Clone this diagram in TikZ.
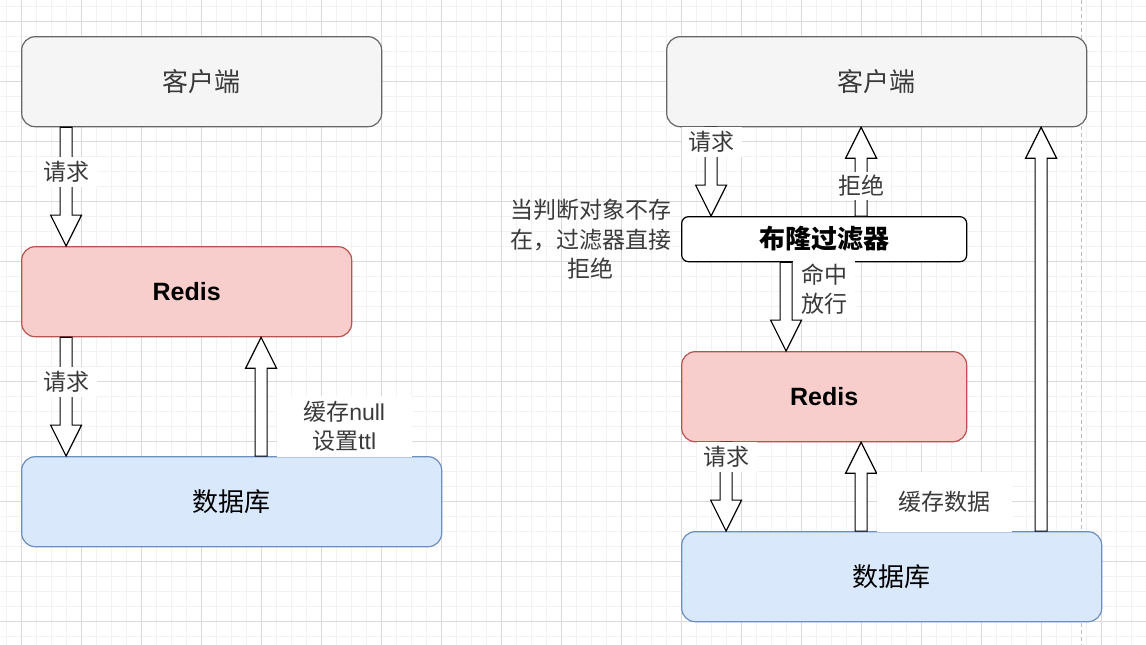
\documentclass[tikz,border=0pt]{standalone}
\usepackage{fontspec}
\setmainfont{Liberation Sans}
\newfontfamily\cjk{Noto Sans CJK SC}
\usetikzlibrary{calc}
\definecolor{gridminor}{HTML}{F2F2F2}
\definecolor{gridmajor}{HTML}{DADADA}
\definecolor{pagedash}{HTML}{BBBBBB}
\definecolor{cfill}{HTML}{F5F5F5}
\definecolor{cdraw}{HTML}{666666}
\definecolor{rfill}{HTML}{F8CECC}
\definecolor{rdraw}{HTML}{B85450}
\definecolor{dfill}{HTML}{DAE8FC}
\definecolor{ddraw}{HTML}{6C8EBF}
\definecolor{lblgray}{HTML}{3A3A3A}
\newcommand\arrdown[2]{\draw[barrow] let \p1=(#1), \p2=(#2) in
  (\x1-6pt,\y1) -- (\x1-6pt,\y2+31pt) -- (\x1-15.5pt,\y2+31pt) -- (\x1,\y2)
  -- (\x1+15.5pt,\y2+31pt) -- (\x1+6pt,\y2+31pt) -- (\x1+6pt,\y1) -- cycle;}
\newcommand\arrup[2]{\draw[barrow] let \p1=(#1), \p2=(#2) in
  (\x1-6pt,\y1) -- (\x1-6pt,\y2-31pt) -- (\x1-15.5pt,\y2-31pt) -- (\x1,\y2)
  -- (\x1+15.5pt,\y2-31pt) -- (\x1+6pt,\y2-31pt) -- (\x1+6pt,\y1) -- cycle;}
\begin{document}
\begin{tikzpicture}[x=1pt,y=-1pt,
  clientbox/.style={draw=cdraw, fill=cfill, rounded corners=13.5pt, line width=1.2pt,
    minimum height=90pt, inner sep=0pt, text=lblgray, font=\cjk\fontsize{26}{30}\selectfont},
  redisbox/.style={draw=rdraw, fill=rfill, rounded corners=13.5pt, line width=1.2pt,
    minimum height=90pt, inner sep=0pt, font=\bfseries\fontsize{25}{30}\selectfont},
  dbbox/.style={draw=ddraw, fill=dfill, rounded corners=13.5pt, line width=1.2pt,
    minimum height=90pt, inner sep=0pt, font=\cjk\fontsize{26}{30}\selectfont},
  filterbox/.style={draw=black, fill=white, rounded corners=6.75pt, line width=1.2pt,
    minimum height=45pt, inner sep=0pt, font=\cjk\bfseries\fontsize{26}{30}\selectfont},
  barrow/.style={draw=black, fill=white, line width=1.2pt, line join=miter},
  lbl/.style={fill=white, inner sep=0pt, minimum width=60pt, minimum height=30pt,
    text=lblgray, align=center, font=\cjk\fontsize{23}{29.3}\selectfont},
  note/.style={inner sep=0pt, text=lblgray, align=center, font=\cjk\fontsize{23}{29.3}\selectfont}]
\useasboundingbox (0,0) rectangle (1146,645);
\fill[white] (0,0) rectangle (1146,645);
% grid
\foreach \x in {6.7,21.7,...,1146} \draw[gridminor, line width=0.8pt] (\x,0) -- (\x,645);
\foreach \y in {6.7,21.7,...,645} \draw[gridminor, line width=0.8pt] (0,\y) -- (1146,\y);
\foreach \x in {21.7,81.7,...,1146} \draw[gridmajor, line width=0.8pt] (\x,0) -- (\x,645);
\foreach \y in {21.7,81.7,...,645} \draw[gridmajor, line width=0.8pt] (0,\y) -- (1146,\y);
\draw[pagedash, line width=1pt, dash pattern=on 4pt off 3pt] (1081.7,0) -- (1081.7,645);

% left diagram
\node[clientbox, minimum width=360pt] (cl) at (201.7,81.7) {客户端};
\node[redisbox, minimum width=330pt] (rl) at (186.7,291.7) {Redis};
\node[dbbox, minimum width=420pt] (dl) at (231.7,501.7) {数据库};

% right diagram
\node[clientbox, minimum width=420pt] (cr) at (876.7,81.7) {客户端};
\node[filterbox, minimum width=285pt] (bf) at (824.2,239.2) {布隆过滤器};
\node[redisbox, minimum width=285pt] (rr) at (824.2,396.7) {Redis};
\node[dbbox, minimum width=420pt] (dr) at (891.7,576.7) {数据库};

% left arrows
\arrdown{$(cl.south west)+(45,0)$}{$(rl.north west)+(45,0)$}
\arrdown{$(rl.south west)+(45,0)$}{$(dl.north west)+(45,0)$}
\arrup{$(dl.north west)+(240,0)$}{$(rl.south west)+(240,0)$}

% right arrows
\arrdown{$(cr.south west)+(45,0)$}{$(bf.north west)+(30,0)$}
\arrup{$(bf.north west)+(180,0)$}{$(cr.south west)+(195,0)$}
\arrdown{$(bf.south west)+(105,0)$}{$(rr.north west)+(105,0)$}
\arrdown{$(rr.south west)+(45,0)$}{$(dr.north west)+(45,0)$}
\arrup{$(dr.north west)+(180,0)$}{$(rr.south west)+(180,0)$}
\arrup{$(dr.north west)+(360,0)$}{$(cr.south west)+(375,0)$}

% labels
\node[lbl] (l1) at (66.7,171.7) {请求};
\node[lbl] (l2) at (66.7,381.5) {请求};
\node[lbl, minimum width=135pt, minimum height=61pt] (l3) at (344.2,426.5) {缓存{\fontspec{Liberation Sans}null}\\设置{\fontspec{Liberation Sans}ttl}};
\node[lbl] (r1) at (711.7,141.7) {请求};
\node[lbl, minimum width=56pt, minimum height=28pt] (r2) at (861.7,186) {拒绝};
\node[lbl, minimum width=62pt, minimum height=58pt] (r3) at (824,289) {命中\\放行};
\node[lbl] (r4) at (726.7,456.7) {请求};
\node[lbl, minimum width=135pt, minimum height=60pt] (r5) at (944.2,501.7) {缓存数据};
\node[note] (r6) at (590.7,239.3) {当判断对象不存\\在，过滤器直接\\拒绝};
\end{tikzpicture}
\end{document}
